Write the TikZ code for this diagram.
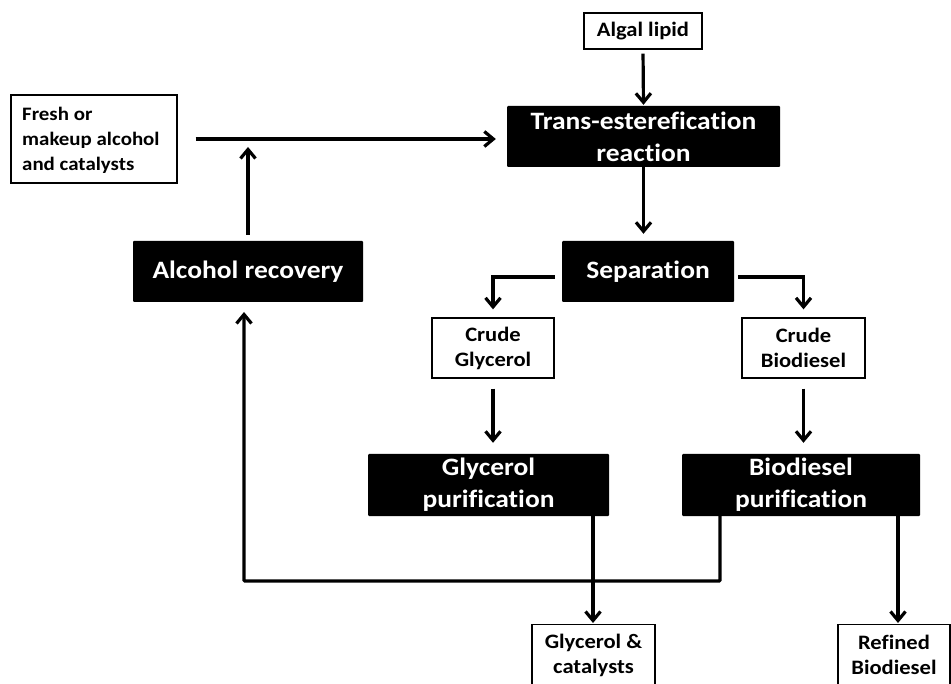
\documentclass[tikz,border=0pt]{standalone}
\usepackage{fontspec}
\setmainfont{Carlito}[FakeStretch=1.1, Ligatures={NoCommon}]
\usetikzlibrary{arrows.meta}
\begin{document}
\begin{tikzpicture}[x=1pt,y=-1pt,
  blackbox/.style={fill=black, text=white, font=\bfseries\fontsize{25}{32}\selectfont, align=center, inner sep=0pt, rounded corners=1pt},
  whitebox/.style={draw=black, line width=1.3pt, fill=white, font=\bfseries\fontsize{20.5}{25}\selectfont, align=center, inner sep=0pt},
  plaintext/.style={font=\bfseries\fontsize{20.5}{25}\selectfont, align=center, inner sep=0pt},
  conn/.style={line width=3.2pt},
  arr/.style={conn, -{Straight Barb[length=9pt,width=15pt]}}
]
\useasboundingbox (0,0) rectangle (951,684);
\clip (0,0) rectangle (951,684);
% nodes
\node[whitebox, minimum width=118pt, minimum height=36pt] (lipid) at (643,31) {Algal lipid};
\node[blackbox, minimum width=273pt, minimum height=61pt] (trans) at (643.5,136.5) {Trans-esterefication\\reaction};
\node[whitebox, minimum width=166pt, minimum height=88pt] (fresh) at (94,139) {};
\node[plaintext, align=left, anchor=west, font=\bfseries\fontsize{19}{25}\selectfont] (freshtext) at (22,140) {Fresh or\\makeup alcohol\\and catalysts};
\node[blackbox, minimum width=230pt, minimum height=61pt] (alcohol) at (248,271.5) {Alcohol recovery};
\node[blackbox, minimum width=172pt, minimum height=61pt] (sep) at (648,271.5) {Separation};
\node[whitebox, minimum width=122pt, minimum height=60pt] (cgly) at (493,348) {Crude\\Glycerol};
\node[whitebox, minimum width=123pt, minimum height=60pt] (cbio) at (803.5,348) {Crude\\Biodiesel};
\node[blackbox, minimum width=241pt, minimum height=62pt] (gpur) at (488.5,485) {Glycerol\\purification};
\node[blackbox, minimum width=238pt, minimum height=62pt] (bpur) at (801,485) {Biodiesel\\purification};
\node[whitebox, minimum width=123pt, minimum height=90pt, anchor=north] (gcatbox) at (593.5,624) {};
\node[plaintext] (gcat) at (593.5,655) {Glycerol \&\\catalysts};
\node[whitebox, minimum width=112pt, minimum height=90pt, anchor=north] (refbox) at (894,624) {};
\node[plaintext] (ref) at (894,655) {Refined\\Biodiesel};
% coordinates
\coordinate (jn) at (alcohol.north |- fresh.east);
\coordinate (gout) at (593,516);
\coordinate (bret) at (720,516);
\coordinate (bout) at (898,516);
\coordinate (retx) at (244,302);
% connectors
\draw[arr, shorten <=4pt, shorten >=1pt] (lipid.south) -- (trans.north);
\draw[arr, shorten <=18pt, shorten >=11pt] (fresh.east) -- (fresh.east -| trans.west);
\draw[arr, shorten <=6pt, shorten >=8pt] (alcohol.north) -- (jn);
\draw[arr, shorten >=7pt] (trans.south) -- (trans.south |- sep.north);
\draw[arr, shorten <=7pt, shorten >=8pt] ([yshift=-5.5pt]sep.west) -| (cgly.north);
\draw[arr, shorten <=4pt, shorten >=8pt] ([yshift=-5.5pt]sep.east) -| (cbio.north);
\draw[arr, shorten <=10pt, shorten >=11pt] (cgly.south) -- (cgly.south |- gpur.north);
\draw[arr, shorten <=10pt, shorten >=11pt] (cbio.south) -- (cbio.south |- bpur.north);
\draw[arr, shorten >=1pt] (gout) -- (gout |- gcatbox.north);
\draw[arr, shorten >=1pt] (bout) -- (bout |- refbox.north);
\draw[arr, rounded corners=1pt, shorten >=10pt] (bret) -- (720,581) -- (244,581) -- (retx);
\end{tikzpicture}
\end{document}
